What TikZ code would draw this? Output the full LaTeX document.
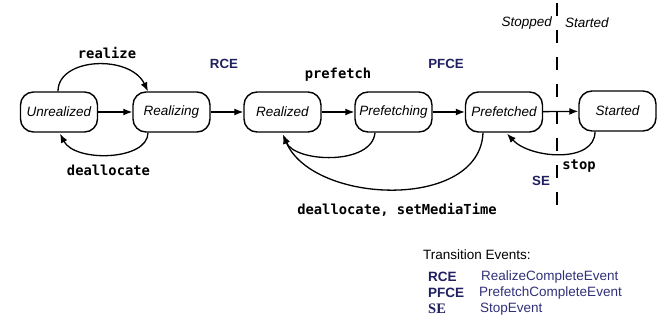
\documentclass[tikz,border=0pt]{standalone}
\usepackage{fontspec}
\setmainfont{Liberation Sans}
\newfontfamily\codefont{DejaVu Sans Mono}
\newfontfamily\serifbold{Liberation Serif}
\usetikzlibrary{arrows.meta,calc}
\definecolor{evnavy}{RGB}{32,32,96}
\definecolor{evtext}{RGB}{48,48,120}
\tikzset{
  state/.style={draw, line width=1.4pt, rounded corners=13pt, minimum width=77pt,
    minimum height=40pt, inner sep=0pt, font=\fontsize{13.5}{15}\selectfont\itshape},
  trans/.style={line width=1.3pt, -{Latex[length=9pt,width=7pt]}},
  method/.style={font=\codefont\bfseries\fontsize{13.8}{15}\selectfont, inner sep=0pt},
  event/.style={font=\bfseries\fontsize{13.3}{15}\selectfont, text=evnavy, inner sep=0pt},
  region/.style={font=\fontsize{13.5}{15}\selectfont\itshape, inner sep=0pt},
  legend/.style={font=\fontsize{13.5}{15}\selectfont, inner sep=0pt, anchor=west},
}
\begin{document}
\begin{tikzpicture}[x=1pt,y=-1pt]
\useasboundingbox (0,0) rectangle (664,328);

% states
\node[state] (U)  at (59,112)    {Unrealized};
\node[state] (Rg) at (171.5,112) {Realizing};
\node[state] (Rd) at (282.5,112) {Realized};
\node[state] (Pg) at (393.5,112) {Prefetching};
\node[state] (Pd) at (504,112)   {Prefetched};
\node[state] (St) at (617.5,111) {Started};

% stopped / started boundary
\coordinate (btop) at (557,3);
\coordinate (bbot) at (557,212);
\draw[line width=1.5pt, dash pattern=on 13pt off 14pt] (btop) -- (bbot);
\node[region, anchor=east] (stopped) at (552,23) {Stopped};
\node[region, anchor=west] (started) at (565,23) {Started};

% forward transitions
\draw[trans] (U) -- (Rg);
\draw[trans] (Rg) -- (Rd);
\draw[trans] (Rd) -- (Pg);
\draw[trans] (Pg) -- (Pd);
\draw[trans] (Pd) -- (St);

% realize / deallocate loops
\draw[trans] ([xshift=-1pt]U.north) .. controls +(0,-34) and +(-18,-37) .. ([xshift=-23.5pt]Rg.north);
\draw[trans] ([xshift=-23.5pt]Rg.south) .. controls +(0,28) and +(15,29) .. ([xshift=1pt,yshift=-1pt]U.south);

% back to Realized
\draw[trans] ([xshift=-18.5pt]Pg.south) .. controls +(-3,33) and +(12,28) .. ([xshift=0.5pt,yshift=-2pt]Rd.south);
\draw[trans] ([xshift=-21pt]Pd.south) .. controls +(-3,78) and +(30,70) .. ([xshift=0.5pt,yshift=-2pt]Rd.south);

% stop
\draw[trans] ([xshift=-22.5pt]St.south) .. controls +(0,32) and +(23,25) .. ([xshift=3pt,yshift=-1pt]Pd.south);

% transition labels
\node[method] (lrealize) at (107,53) {realize};
\node[method] (ldealloc) at (108.5,170) {deallocate};
\node[method] (lprefetch) at (338,75) {prefetch};
\node[method] (lback) at (397,210) {deallocate, setMediaTime};
\node[method] (lstop) at (579,166) {stop};

\node[event] (eRCE) at (224,64) {RCE};
\node[event] (ePFCE) at (446,64) {PFCE};
\node[event] (eSE) at (541,181) {SE};

% legend
\node[legend] (ltitle) at (423,255) {Transition Events:};
\node[legend, font=\bfseries\fontsize{13.5}{15}\selectfont, text=evnavy] (k1) at (428,277) {RCE};
\node[legend, font=\bfseries\fontsize{13.5}{15}\selectfont, text=evnavy] (k2) at (428,293) {PFCE};
\node[legend, font=\serifbold\bfseries\fontsize{14.5}{15}\selectfont, text=evnavy] (k3) at (428,309) {SE};
\node[legend, text=evtext] (d1) at (481,277) {RealizeCompleteEvent};
\node[legend, text=evtext] (d2) at (479,293) {PrefetchCompleteEvent};
\node[legend, text=evtext] (d3) at (480,309) {StopEvent};
\end{tikzpicture}
\end{document}
